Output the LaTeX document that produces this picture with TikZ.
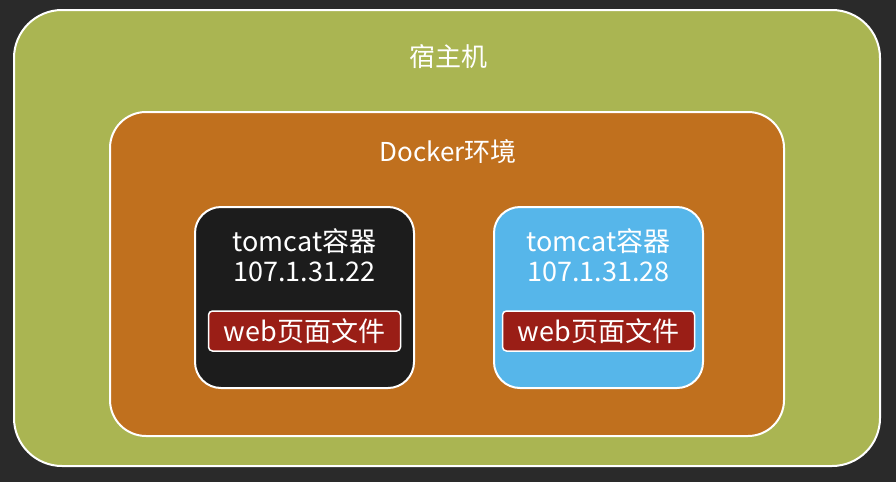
\documentclass[tikz,border=0pt]{standalone}
\usepackage{fontspec}
\setmainfont{Noto Sans CJK SC}
\begin{document}
\begin{tikzpicture}[x=1pt,y=-1pt,
  box/.style={draw=white,line width=2pt,rounded corners=#1},
  lbl/.style={text=white,font=\fontsize{26}{30}\selectfont,align=center,inner sep=0pt},
  redbox/.style={draw=white,line width=1.5pt,rounded corners=4pt,fill=webred,minimum width=192pt,minimum height=40pt,text=white,font=\fontsize{27}{30}\selectfont,inner sep=0pt}]
\definecolor{bg}{HTML}{2A2A2A}
\definecolor{olive}{HTML}{AAB552}
\definecolor{orng}{HTML}{C0701E}
\definecolor{dark}{HTML}{1C1C1C}
\definecolor{sky}{HTML}{56B6EA}
\definecolor{webred}{HTML}{9A1E16}
\fill[bg] (0,0) rectangle (896,482);
\path[box=48pt,fill=olive] (14,10) rectangle (880,466);
\node[lbl] (host) at (448,57) {宿主机};
\path[box=36pt,fill=orng] (110,112) rectangle (784,436);
\node[lbl] (docker) at (448,152) {Docker环境};
\path[box=26pt,fill=dark] (195,207) rectangle (414,388);
\node[lbl,font=\fontsize{27}{30}\selectfont] (t1) at (304.5,255) {tomcat容器\\107.1.31.22};
\node[redbox] (w1) at (304.5,331) {web页面文件};
\path[box=26pt,fill=sky] (494,207) rectangle (703,388);
\node[lbl,font=\fontsize{27}{30}\selectfont] (t2) at (598.5,255) {tomcat容器\\107.1.31.28};
\node[redbox] (w2) at (598.5,331) {web页面文件};
\end{tikzpicture}
\end{document}
